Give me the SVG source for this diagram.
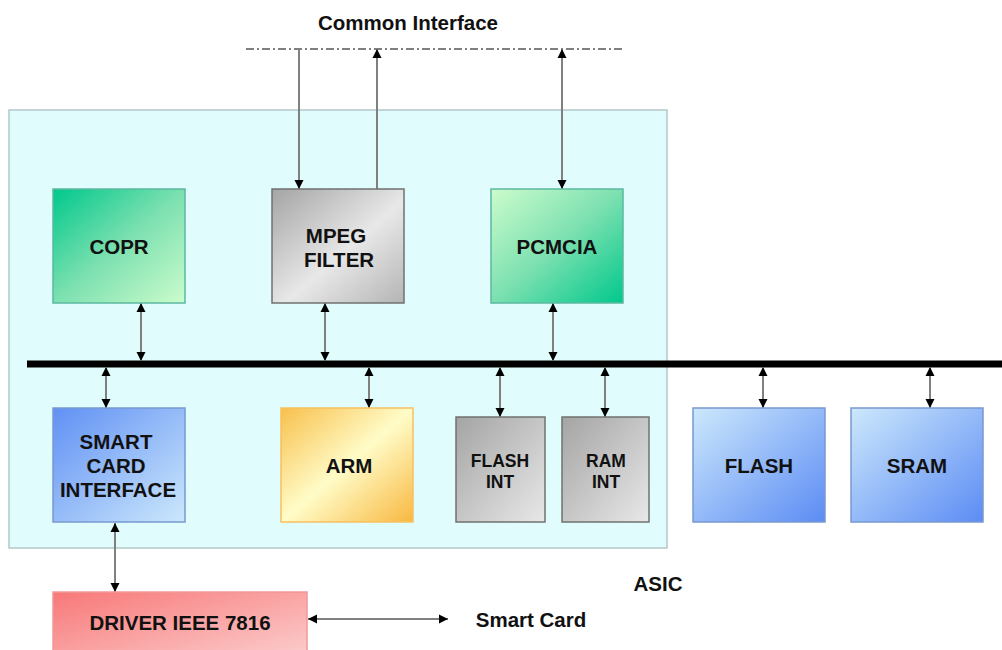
<svg xmlns="http://www.w3.org/2000/svg" width="1002" height="650" viewBox="0 0 1002 650">
<style>
text{font-family:"Liberation Sans",Arial,sans-serif;font-weight:bold;fill:#111;text-anchor:middle}
.lbl{font-size:20.5px}
.sm{font-size:17.5px}
.conn{stroke:#808080;stroke-width:2;fill:none}
.dbl{marker-start:url(#ah);marker-end:url(#ah)}
.end{marker-end:url(#ah)}
</style>
<defs>
<marker id="ah" viewBox="0 0 10 10" refX="10" refY="5" markerWidth="9" markerHeight="12" markerUnits="userSpaceOnUse" orient="auto-start-reverse">
<path d="M0,0 L10,5 L0,10 z" fill="#000"/>
</marker>
<linearGradient id="gTeal" x1="0" y1="0" x2="1" y2="1"><stop offset="0" stop-color="#00c88c"/><stop offset="0.5" stop-color="#7ce0b0"/><stop offset="1" stop-color="#ccfccc"/></linearGradient>
<linearGradient id="gTeal2" x1="0" y1="0" x2="1" y2="1"><stop offset="0" stop-color="#ccfccc"/><stop offset="0.5" stop-color="#7ce0b0"/><stop offset="1" stop-color="#00c88c"/></linearGradient>
<linearGradient id="gGrey" x1="0" y1="0" x2="1" y2="1"><stop offset="0" stop-color="#a4a4a4"/><stop offset="0.55" stop-color="#e8e8e8"/><stop offset="1" stop-color="#b4b4b4"/></linearGradient>
<linearGradient id="gGrey2" x1="0" y1="0" x2="1" y2="1"><stop offset="0" stop-color="#a4a4a4"/><stop offset="1" stop-color="#e8e8e8"/></linearGradient>
<linearGradient id="gBlue" x1="0" y1="0" x2="1" y2="1"><stop offset="0" stop-color="#6090f4"/><stop offset="1" stop-color="#cce8fc"/></linearGradient>
<linearGradient id="gBlue2" x1="0" y1="0" x2="1" y2="1"><stop offset="0" stop-color="#cce8fc"/><stop offset="1" stop-color="#5c8cf4"/></linearGradient>
<linearGradient id="gOrange" x1="0" y1="0" x2="1" y2="1"><stop offset="0" stop-color="#f8c04c"/><stop offset="0.5" stop-color="#fffcc8"/><stop offset="1" stop-color="#f8b840"/></linearGradient>
<linearGradient id="gRed" x1="0" y1="0" x2="1" y2="1"><stop offset="0" stop-color="#f87878"/><stop offset="1" stop-color="#fcd0d0"/></linearGradient>
</defs>
<rect width="1002" height="650" fill="#fff"/>
<g id="asic">
<rect x="9" y="110" width="658" height="438" fill="#e0fcfc" stroke="#b4c8c8" stroke-width="1.5"/>
<text x="658" y="591" class="lbl">ASIC</text>
</g>
<g id="common-interface">
<line x1="246" y1="49" x2="622" y2="49" stroke="#000" stroke-width="1" stroke-dasharray="8,3,2,3"/>
<text x="408" y="30" class="lbl">Common Interface</text>
</g>
<g id="bus">
<line x1="27" y1="364" x2="1002" y2="364" stroke="#000" stroke-width="7"/>
</g>
<g id="connectors">
<line class="conn end" x1="299" y1="49" x2="299" y2="189"/>
<line class="conn end" x1="377" y1="189" x2="377" y2="49"/>
<line class="conn dbl" x1="562" y1="49" x2="562" y2="189"/>
<line class="conn dbl" x1="141" y1="303" x2="141" y2="361"/>
<line class="conn dbl" x1="325" y1="303" x2="325" y2="361"/>
<line class="conn dbl" x1="553" y1="303" x2="553" y2="361"/>
<line class="conn dbl" x1="106" y1="367" x2="106" y2="408"/>
<line class="conn dbl" x1="369" y1="367" x2="369" y2="408"/>
<line class="conn dbl" x1="500" y1="367" x2="500" y2="417"/>
<line class="conn dbl" x1="605" y1="367" x2="605" y2="417"/>
<line class="conn dbl" x1="763" y1="367" x2="763" y2="408"/>
<line class="conn dbl" x1="930" y1="367" x2="930" y2="408"/>
<line class="conn dbl" x1="115" y1="523" x2="115" y2="592"/>
<line class="conn dbl" x1="308" y1="619" x2="448" y2="619"/>
</g>
<g id="copr">
<rect x="53" y="189" width="132" height="114" fill="url(#gTeal)" stroke="#5cb8a0" stroke-width="1.5"/>
<text x="119" y="254" class="lbl">COPR</text>
</g>
<g id="mpeg">
<rect x="272" y="189" width="132" height="114" fill="url(#gGrey)" stroke="#707070" stroke-width="1.5"/>
<text x="336" y="243" class="lbl">MPEG</text>
<text x="339" y="267" class="lbl">FILTER</text>
</g>
<g id="pcmcia">
<rect x="491" y="189" width="132" height="114" fill="url(#gTeal2)" stroke="#5cb8a0" stroke-width="1.5"/>
<text x="557" y="254" class="lbl">PCMCIA</text>
</g>
<g id="smartcard">
<rect x="53" y="408" width="132" height="114" fill="url(#gBlue)" stroke="#7898d0" stroke-width="1.5"/>
<text x="116" y="449" class="lbl">SMART</text>
<text x="116" y="473" class="lbl">CARD</text>
<text x="118" y="497" class="lbl">INTERFACE</text>
</g>
<g id="arm">
<rect x="281" y="408" width="132" height="114" fill="url(#gOrange)" stroke="#f8c060" stroke-width="1.5"/>
<text x="349" y="473" class="lbl">ARM</text>
</g>
<g id="flashint">
<rect x="456" y="417" width="89" height="105" fill="url(#gGrey2)" stroke="#707070" stroke-width="1.5"/>
<text x="500" y="467" class="sm">FLASH</text>
<text x="500" y="488" class="sm">INT</text>
</g>
<g id="ramint">
<rect x="562" y="417" width="87" height="105" fill="url(#gGrey2)" stroke="#707070" stroke-width="1.5"/>
<text x="606" y="467" class="sm">RAM</text>
<text x="606" y="488" class="sm">INT</text>
</g>
<g id="flash">
<rect x="693" y="408" width="132" height="114" fill="url(#gBlue2)" stroke="#7898d0" stroke-width="1.5"/>
<text x="759" y="473" class="lbl">FLASH</text>
</g>
<g id="sram">
<rect x="851" y="408" width="132" height="114" fill="url(#gBlue2)" stroke="#7898d0" stroke-width="1.5"/>
<text x="917" y="473" class="lbl">SRAM</text>
</g>
<g id="driver">
<rect x="53" y="592" width="254" height="70" fill="url(#gRed)" stroke="#f09898" stroke-width="1.5"/>
<text x="180" y="630" class="lbl">DRIVER IEEE 7816</text>
</g>
<g id="smartcard-label">
<text x="531" y="627" class="lbl">Smart Card</text>
</g>
</svg>
